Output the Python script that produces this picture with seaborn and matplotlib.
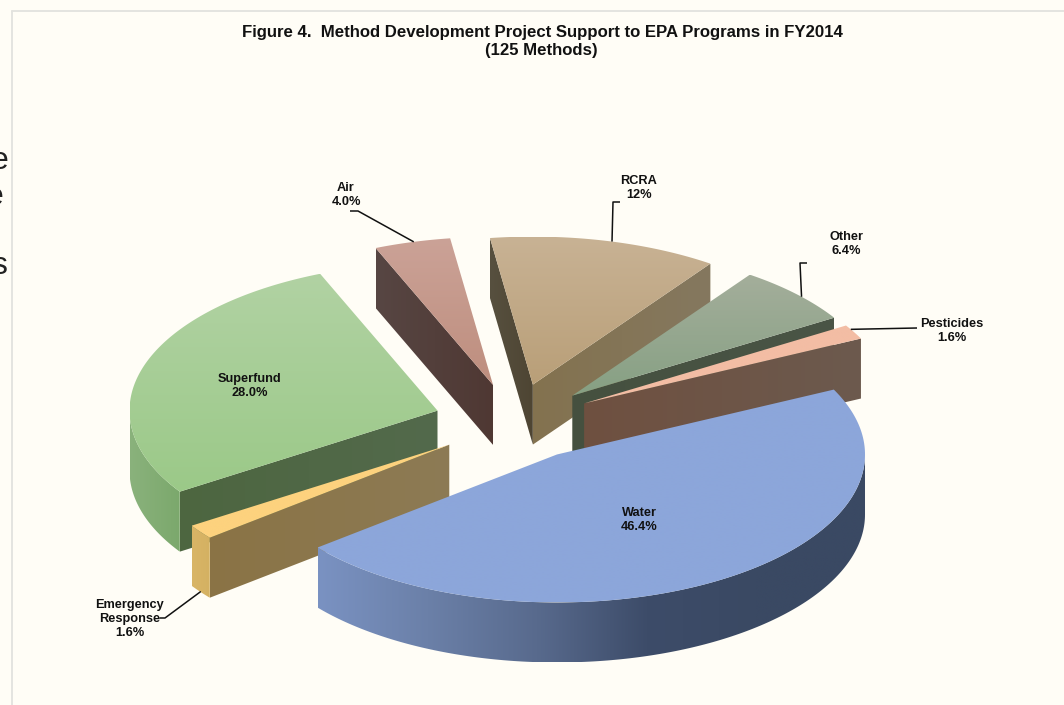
import numpy as np
import matplotlib
matplotlib.use('Agg')
import matplotlib.pyplot as plt
from matplotlib.path import Path
from matplotlib.patches import PathPatch
import seaborn as sns

# data
labels = ['Water', 'Emergency\nResponse', 'Superfund', 'Air', 'RCRA', 'Other', 'Pesticides']
values = [46.4, 1.6, 28.0, 4.0, 12.0, 6.4, 1.6]
value_text = ['46.4%', '1.6%', '28.0%', '4.0%', '12%', '6.4%', '1.6%']

# colours per slice: top (far, near), radial faces (left, right), arc side (left..right)
top_colors = [['#8CA6DA', '#8CA6DA'], ['#FDD27E', '#FDD27E'], ['#B1D2A3', '#9BC988'],
              ['#CBA297', '#BE8E7E'], ['#C8B294', '#B99F78'], ['#A4AE9B', '#86A083'],
              ['#F3BDA4', '#F3BDA4']]
high_face_colors = [['#3A475F', '#3A475F'], ['#8A7345', '#8D7B55'], ['#4D6640', '#536A4C'],
                    ['#574643', '#4F3833'], ['#57503F', '#4E4533'], ['#45503F', '#4A5546'],
                    ['#6F5040', '#6C5A4E']]
low_face_colors = [['#3A475F', '#3A475F'], ['#8A7345', '#8D7B55'], ['#4D6640', '#536A4C'],
                   ['#574643', '#4F3833'], ['#83724F', '#85785F'], ['#45503F', '#4A5546'],
                   ['#6F5040', '#6C5A4E']]
side_colors = [['#7A92C2', '#6B80A8', '#586A8D', '#3D4C69', '#3A4963', '#3A4963'], ['#D9B566', '#D4B162'],
               ['#8AB27C', '#7BA86C'], ['#574643', '#574643'], ['#57503F', '#57503F'],
               ['#45503F', '#45503F'], ['#6C5A4E', '#6C5A4E']]
draw_order = [3, 4, 5, 2, 6, 1, 0]

# layout
cx, cy = 514, 422
rx, ry = 308, 148
depth = 60
explode = 0.26
start_angle = 26.0

sns.set_theme(style='white')
plt.rcParams['font.family'] = ['Liberation Sans', 'DejaVu Sans']
bg = '#FFFDF6'

fig = plt.figure(figsize=(10.64, 7.05), dpi=100, facecolor=bg)
ax = fig.add_axes([0, 0, 1, 1], facecolor=bg)
ax.axis('off')


def grad_fill(pts, colors, vertical, z):
    pts = np.array(pts)
    patch = PathPatch(Path(np.vstack([pts, pts[0]]), closed=True), fc='none', ec='none')
    ax.add_patch(patch)
    cmap = sns.blend_palette(colors, as_cmap=True)
    g = np.linspace(0, 1, 256)
    g = g[:, None] if vertical else g[None, :]
    x0, x1, y0, y1 = pts[:, 0].min(), pts[:, 0].max(), pts[:, 1].min(), pts[:, 1].max()
    im = ax.imshow(g, cmap=cmap, extent=[x0, x1, y1, y0], aspect='auto', zorder=z, vmin=0, vmax=1,
                   interpolation='bilinear')
    im.set_clip_path(patch)


def on_pie(ang, c):
    a = np.radians(ang)
    return np.column_stack([c[0] + rx * np.cos(a), c[1] - ry * np.sin(a)])


# slice angles, clockwise from the start angle
sweeps = np.array(values) / sum(values) * 360
highs = start_angle - np.concatenate([[0], np.cumsum(sweeps)[:-1]])
lows = highs - sweeps
mids = (highs + lows) / 2
centers = [(cx + explode * rx * np.cos(np.radians(m)), cy - explode * ry * np.sin(np.radians(m))) for m in mids]

for n, i in enumerate(draw_order):
    c = centers[i]
    z = 2 + n
    arc_a = np.linspace(lows[i], highs[i], 200)
    arc = on_pie(arc_a, c)
    down = np.array([0, depth])
    # radial faces turned to the viewer
    for a, normal, cols in [(highs[i], highs[i] + 90, high_face_colors[i]), (lows[i], lows[i] - 90, low_face_colors[i])]:
        if np.sin(np.radians(normal)) < 0:
            p = on_pie(np.array([a]), c)[0]
            grad_fill([c, p, p + down, np.array(c) + down], cols, False, z)
    # outer wall, front part of the arc only
    front = arc_a[np.sin(np.radians(arc_a)) < 0.0]
    if front.size > 1:
        wall = on_pie(front, c)
        grad_fill(np.vstack([wall, wall[::-1] + down]), side_colors[i], False, z)
    # top
    grad_fill(np.vstack([[c], arc]), top_colors[i], True, z)

# labels
label_x = [639, 130, 250, 346, 639, 846, 952]
label_y = [520, 619, 386, 195, 188, 244, 331]
leader_frac = [None, None, None, 0.52, 0.53, 0.56, 0.3]
leader_mid = [None, None, None, [(358, 211), (350, 211)], [(613, 202), (620, 202)],
              [(800, 263), (807, 263)], [(917, 328), (917, 328)]]
for i in range(len(labels)):
    ax.text(label_x[i], label_y[i], labels[i] + '\n' + value_text[i], ha='center', va='center',
            fontsize=9.2, fontweight='bold', color='#111111', linespacing=1.2, zorder=30)
    if leader_mid[i] is not None:
        a = highs[i] - leader_frac[i] * sweeps[i]
        p = on_pie(np.array([a]), centers[i])[0]
        lx = [p[0]] + [q[0] for q in leader_mid[i]]
        ly = [p[1]] + [q[1] for q in leader_mid[i]]
        ax.plot(lx, ly, color='#111111', lw=1.1, zorder=29, solid_capstyle='butt')
# emergency response leader starts on the lower edge of its wall
er = on_pie(np.array([highs[1] - 0.5 * sweeps[1]]), centers[1])[0]
ax.plot([er[0], 165, 160], [er[1] + depth, 618, 618], color='#111111', lw=1.1, zorder=29)

# title
ax.text(542, 32, 'Figure 4.  Method Development Project Support to EPA Programs in FY2014',
        ha='center', va='center', fontsize=12.1, fontweight='bold', color='#111111', zorder=30)
ax.text(541, 50.5, '(125 Methods)', ha='center', va='center', fontsize=12.1, fontweight='bold',
        color='#111111', zorder=30)

# chart frame and cut-off page text at the left
ax.plot([12, 12], [705, 11], color='#E2E2DE', lw=1.3, zorder=1)
ax.plot([12, 1064], [11, 11], color='#E2E2DE', lw=1.3, zorder=1)
for tx, ty, ch in [(8, 169, 'e'), (3, 205, 'e'), (7, 274, 's')]:
    ax.text(tx, ty, ch, ha='right', va='baseline', fontsize=23, color='#222222', zorder=30)

ax.set_xlim(0, 1064)
ax.set_ylim(705, 0)
fig.savefig('out.png', dpi=100, facecolor=bg)
